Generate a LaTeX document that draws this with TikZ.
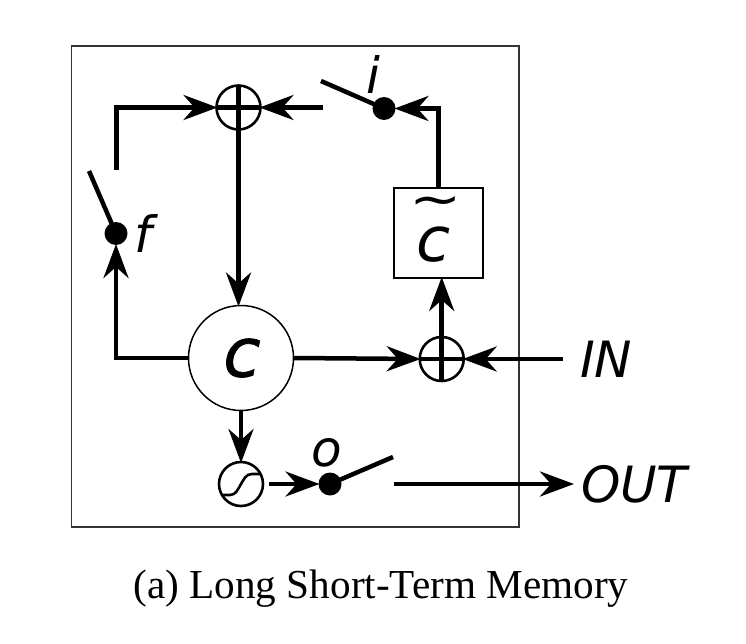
\documentclass[tikz,border=0pt]{standalone}
\usepackage{fontspec}
\usepackage{graphicx}
\setmainfont{DejaVu Sans}
\newfontfamily\capfont{Liberation Serif}
\newfontfamily\memfont[FakeBold=0.9]{DejaVu Sans}
\usetikzlibrary{arrows.meta}
\tikzset{
  x=1pt,y=-1pt,
  conn/.style={line width=4.5pt,line join=miter},
  arr/.style={conn,-{Stealth[length=34pt,width=25pt,inset=11pt]},shorten >=-1pt},
  frame/.style={draw=black!80,line width=1.3pt,inner sep=0pt,outer sep=0pt},
  junction/.style={circle,draw,line width=2.6pt,fill=white,minimum size=44pt,inner sep=0pt,outer sep=0pt},
  cell/.style={circle,draw,line width=1.5pt,fill=white,minimum size=105pt,inner sep=0pt,outer sep=0pt},
  gate/.style={circle,fill=black,minimum size=23pt,inner sep=0pt,outer sep=0pt},
  gatebox/.style={draw,line width=1.5pt,fill=white,minimum width=89pt,minimum height=90pt,inner sep=0pt,outer sep=0pt},
  lab/.style={font=\fontsize{50}{50}\selectfont\itshape,inner sep=0pt,outer sep=0pt},
}
\begin{document}
\begin{tikzpicture}
\useasboundingbox (0,0) rectangle (746,644);
\fill[white] (0,0) rectangle (746,644);
\draw[frame] (71.5,46) rectangle (519,527);

% nodes
\node[junction] (topplus) at (238.5,107.5) {};
\node[junction] (botplus) at (441.7,359) {};
\node[junction] (sig) at (241,484) {};
\node[cell] (mem) at (241,358) {};
\node[gatebox] (ctilde) at (438.5,233) {};
\node[gate] (idot) at (384,108.5) {};
\node[gate] (fdot) at (116,233.5) {};
\node[gate] (odot) at (330,484) {};

% free ends
\coordinate (fopen) at (116.5,170);
\coordinate (iopen) at (322.5,107.5);
\coordinate (ilever) at (321,81);
\coordinate (flever) at (89,171);
\coordinate (olever) at (393,457);
\coordinate (sigout) at (269,484);
\coordinate (oopen) at (394,484);
\coordinate (inend) at (563,359);
\coordinate (outend) at (573,484);

% junction crosses
\draw[conn] (topplus.north) -- (topplus.south);
\draw[conn] (topplus.west) -- (topplus.east);
\draw[conn] (botplus.north) -- (botplus.south);
\draw[conn] (botplus.west) -- (botplus.east);
\begin{scope}[shift={(sig.center)}]
\draw[line width=2.6pt] (-18,11) -- (-11,11) .. controls (-5,11) and (-3,5) .. (0,0)
   .. controls (3,-5) and (5,-10) .. (11,-10) -- (19,-10);
\end{scope}

% connectors
\draw[arr] (fopen) |- (topplus.west);
\draw[arr] (iopen) -- (topplus.east);
\draw[arr] (topplus.south) -- (topplus.south |- mem.north);
\draw[arr] (mem.west) -| (fdot.south);
\draw[arr] (mem.east) -- (botplus.west);
\draw[arr] (inend) -- (botplus.east);
\draw[arr] (botplus.north) -- (botplus.north |- ctilde.south);
\draw[arr] (ctilde.north) |- (idot.east);
\draw[arr] (mem.south) -- (sig.north);
\draw[arr] (sigout) -- (odot.west);
\draw[arr] (oopen) -- (outend);
\draw[conn] (fdot.center) -- (flever);
\draw[conn] (idot.center) -- (ilever);
\draw[conn] (odot.center) -- (olever);

% labels
\node[lab] (flabel) at (143,234) {f};
\node[lab] (ilabel) at (373,75) {i};
\node[lab] (olabel) at (327,453) {o};
\node[lab,anchor=west] (inlabel) at (580,359.5) {IN};
\node[lab,anchor=west] (outlabel) at (581,484.5) {OUT};
\node[font=\memfont\fontsize{68}{68}\selectfont\itshape,inner sep=0pt] (memlabel) at (242,358) {c};
\node[font=\fontsize{62}{62}\selectfont\itshape,inner sep=0pt] (ctlabel) at (434,245) {c};
\node[inner sep=0pt] (tildelabel) at (436,207) {\scalebox{1.25}[1]{\fontsize{50}{50}\selectfont\char`\~}};
\node[font=\capfont\fontsize{41.2}{41.2}\selectfont,inner sep=0pt] (caption) at (381,589) {(a) Long Short-Term Memory};
\end{tikzpicture}
\end{document}
